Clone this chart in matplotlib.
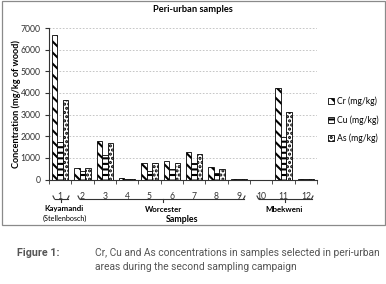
import matplotlib
matplotlib.use("Agg")
import matplotlib.pyplot as plt
import numpy as np
from matplotlib.patches import Rectangle

samples = ["1", "2", "3", "4", "5", "6", "7", "8", "9", "10", "11", "12"]
cr = [6680, 540, 1780, 60, 740, 850, 1250, 580, 20, 0, 4210, 40]
cu = [1740, 380, 1120, 20, 400, 500, 750, 300, 10, 0, 1970, 30]
asn = [3670, 520, 1700, 10, 740, 760, 1200, 500, 10, 0, 3130, 40]
series_names = ["Cr (mg/kg)", "Cu (mg/kg)", "As (mg/kg)"]
yticks = [0, 1000, 2000, 3000, 4000, 5000, 6000, 7000]

plt.rcParams['font.family'] = ['Lato', 'DejaVu Sans']
plt.rcParams['hatch.linewidth'] = 1.5
fig = plt.figure(figsize=(3.86, 2.84), dpi=100)
W, H = 386, 284
renderer = fig.canvas.get_renderer()

def fx(px):
    return px / W

def fy(py):
    return 1 - py / H

def fit(t, target, vertical=False):
    bb = t.get_window_extent(renderer)
    w = bb.height if vertical else bb.width
    t.set_fontsize(t.get_fontsize() * target / w)

# outer frame
fig.patches.append(Rectangle((fx(2), fy(224.5)), fx(383), fy(0.5) - fy(224.5),
                             transform=fig.transFigure, fill=False,
                             edgecolor="#8a8a8a", linewidth=0.9))

ax = fig.add_axes([fx(49), fy(179.5), fx(317 - 49), fy(28) - fy(179.5)])
x = np.arange(len(samples))
bw = 0.24
hatches = ['\\\\\\', '---', '....']
bars = []
for i, (vals, h) in enumerate(zip([cr, cu, asn], hatches)):
    b = ax.bar(x + (i - 1) * bw, vals, bw, color="white", edgecolor="black",
               hatch=h, linewidth=0.6, label=series_names[i], zorder=3)
    bars.append(b)

ax.set_xlim(-0.5, len(samples) - 0.5)
ax.set_ylim(0, 7000)
ax.set_yticks(yticks)
ax.set_yticklabels([str(v) for v in yticks], fontsize=6.2, color="#333333")
ax.set_xticks(x)
ax.set_xticklabels(samples, fontsize=6.2, color="#333333")
ax.set_xticks(np.arange(-0.5, len(samples), 1), minor=True)
ax.tick_params(axis='x', which='major', length=0, pad=9)
ax.tick_params(axis='x', which='minor', length=3, direction='out', color="#333333")
ax.tick_params(axis='y', length=3, direction='out', pad=3, color="#333333")
ax.yaxis.grid(True, linestyle=(0, (2, 2)), color="#bdbdbd", linewidth=0.6, zorder=0)
for s in ["top", "right"]:
    ax.spines[s].set_visible(False)
ax.spines["left"].set_color("#333333")
ax.spines["bottom"].set_color("#333333")
ax.spines["left"].set_linewidth(0.8)
ax.spines["bottom"].set_linewidth(0.8)

yl = fig.text(fx(16), fy(104), "Concentration (mg/kg of wood)", rotation=90,
              ha="center", va="center", fontsize=7, fontweight="bold")
fit(yl, 130, vertical=True)

t = fig.text(fx(193), fy(9), "Peri-urban samples", ha="center", va="center",
             fontsize=7, fontweight="bold")
fit(t, 80)

# legend
leg = fig.legend(handles=bars, labels=series_names, loc="center left",
                 bbox_to_anchor=(fx(328), fy(120)),
                 frameon=False, fontsize=6.2, handlelength=0.7, handleheight=0.7,
                 labelspacing=1.05, handletextpad=0.3, borderaxespad=0, borderpad=0)

# braces
def brace(x0, x1, y, mid):
    kw = dict(color="#333333", lw=0.8)
    fig.add_artist(plt.Line2D([fx(x0), fx(x0 + 1.5)], [fy(y - 3), fy(y)], **kw))
    fig.add_artist(plt.Line2D([fx(x0 + 1.5), fx(x1 - 1.5)], [fy(y), fy(y)], **kw))
    fig.add_artist(plt.Line2D([fx(x1 - 1.5), fx(x1)], [fy(y), fy(y - 3)], **kw))
    fig.add_artist(plt.Line2D([fx(mid), fx(mid)], [fy(y), fy(y + 3)], **kw))

brace(53, 69, 199, 61)
brace(78, 245, 199, 163)
brace(257, 313, 199, 285)

ka = fig.text(fx(64), fy(209), "Kayamandi", ha="center", va="center", fontsize=6,
              fontweight="bold")
fit(ka, 39)
gs = ka.get_fontsize()
st = fig.text(fx(64.5), fy(218), "(Stellenbosch)", ha="center", va="center", fontsize=6)
fit(st, 45)
fig.text(fx(163.5), fy(209), "Worcester", ha="center", va="center", fontsize=gs,
         fontweight="bold")
fig.text(fx(284), fy(210), "Mbekweni", ha="center", va="center", fontsize=gs,
         fontweight="bold")
sm = fig.text(fx(182), fy(219), "Samples", ha="center", va="center", fontsize=6,
              fontweight="bold")
fit(sm, 33)

cap_font = ["Roboto", "DejaVu Sans"]
f1 = fig.text(fx(17), fy(253), "Figure 1:", ha="left", va="center", fontsize=8,
              fontweight="bold", color="#555555", family=cap_font)
fit(f1, 43)
c1 = fig.text(fx(95), fy(253), "Cr, Cu and As concentrations in samples selected in peri-urban",
              ha="left", va="center", fontsize=8, color="#555555", family=cap_font)
fit(c1, 287)
c2 = fig.text(fx(95), fy(267), "areas during the second sampling campaign",
              ha="left", va="center", fontsize=c1.get_fontsize(), color="#555555",
              family=cap_font)

fig.savefig("out.png", dpi=100)
